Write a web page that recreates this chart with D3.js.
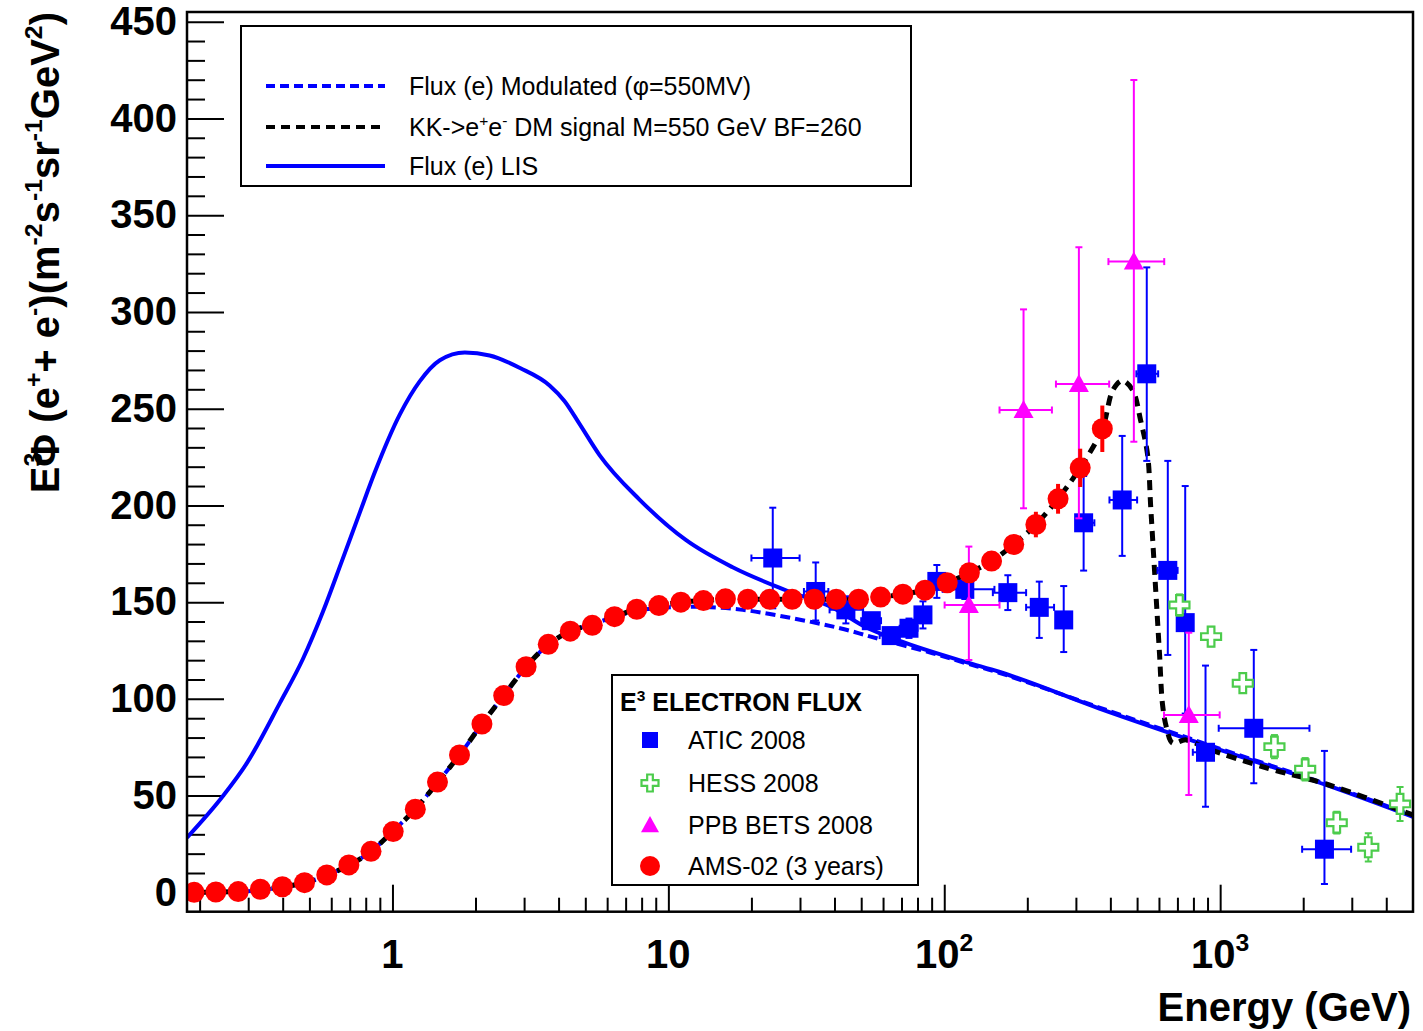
<!DOCTYPE html>
<html>
<head>
<meta charset="utf-8">
<script src="https://cdn.jsdelivr.net/npm/d3@7"></script>
<style>
  body { margin: 0; background: #fff; }
  text { font-family: "Liberation Sans", Arial, Helvetica, sans-serif; }
</style>
</head>
<body>
<div id="chart"></div>
<script>
// ---- data ----
// Flux (e) LIS, solid blue
var lisE = [0.18, 0.243, 0.297, 0.391, 0.4735, 0.5596, 0.6556, 0.7618, 0.8635, 1.0637, 1.257, 1.485, 1.829, 2.25, 2.90, 3.71, 4.2, 4.77, 5.63, 7.86, 11.6, 17.1, 26.8, 39.5, 52, 69, 120, 158, 365, 1000, 2421, 5000];
var lisV = [28.3, 49.8, 66.9, 97.9, 120.6, 145, 171.2, 196.4, 217.2, 247, 264.2, 275, 279, 277.5, 271, 262, 254, 242, 226, 203, 182, 168, 156, 147, 137, 130, 119, 114, 95, 73.6, 55.5, 39];

// Flux (e) Modulated (phi=550MV), dashed blue
var modE = [0.18, 0.23, 0.28, 0.33, 0.40, 0.48, 0.58, 0.70, 0.84, 1.0, 1.21, 1.46, 1.75, 2.11, 2.53, 3.05, 3.67, 4.41, 5.3, 6.38, 7.68, 9.24, 12.6, 18.6, 28.3, 41.9, 60, 90.7, 120, 158, 365, 1000, 2421, 5000];
var modV = [0, 0.2, 0.4, 1.2, 2.7, 4.8, 8.9, 14.2, 21.4, 31.4, 43, 57, 71, 87, 101.7, 116.6, 128, 135, 138.5, 142.5, 145.5, 147, 147.6, 146, 141.6, 136.5, 130.4, 123.6, 118.4, 113.5, 95.5, 74.2, 56, 39.6];

// KK->e+e- DM signal, dashed black
var dmE = [0.18, 0.23, 0.28, 0.33, 0.40, 0.48, 0.58, 0.70, 0.84, 1.0, 1.21, 1.46, 1.75, 2.11, 2.53, 3.05, 3.67, 4.41, 5.3, 6.38, 7.68, 9.24, 11.1, 13.4, 16.1, 23.3, 33.8, 48.9, 58.8, 70.8, 85.2, 102.5, 123.3, 148.4, 178.6, 214.8, 258.5, 311, 374, 408.6, 441.9, 481.6, 514.6, 545.8, 559.6, 573.8, 588.3, 603.1, 618.4, 639.4, 672, 753, 888, 1500, 2421, 5000];
var dmV = [0, 0.2, 0.4, 1.4, 2.8, 4.9, 9, 14.2, 21.4, 31.4, 43, 57, 71, 87, 101.7, 116.6, 128, 135, 138.5, 142.5, 146.3, 148.2, 150, 150.8, 151.5, 151.5, 151.5, 151.5, 152.6, 154.1, 156.2, 160, 165.2, 171.2, 179.8, 190.1, 203.4, 219.4, 239.6, 259.6, 264.4, 259.6, 244.1, 226.1, 200.3, 174.4, 148.6, 122.8, 96.9, 85, 77.2, 78.8, 74.5, 64, 56, 40];

// ATIC 2008
var aticE = [23.9, 34.2, 44, 54.4, 64.2, 74.5, 83.7, 94, 118.7, 170, 221, 271, 320, 441.5, 542, 646, 747, 885, 1324, 2388];
var aticV = [172.8, 155.5, 146, 140.4, 132.7, 136.5, 143.4, 160.7, 156.6, 154.9, 147.3, 140.8, 191, 202.8, 268, 166.4, 139.4, 72.4, 84.8, 22.3];
var aticErrLo = [26, 15, 7, 4, 4, 5, 7, 8.5, 5, 9, 15.8, 16.6, 24.7, 28.9, 45, 43.7, 47, 28.1, 28.4, 18];
var aticErrHi = [26, 15, 7, 4, 4, 5, 7, 8.5, 5, 9, 13.3, 17.5, 24.2, 33.1, 55, 56.6, 70.6, 44.8, 40.5, 50.8];
var aticElo = [20.0, 31, 38.4, 50, 58.3, 68.9, 78.5, 89, 98.7, 150, 198, 255, 300, 397, 497, 593, 713, 796, 988, 1982];
var aticEhi = [29.9, 38, 50.8, 59, 68.9, 80, 89, 101.5, 152, 198, 250, 287, 350, 500, 596, 701, 787, 935, 2107, 2983];

// HESS 2008
var hessE = [712, 927, 1208, 1573, 2033, 2646, 3443, 4488];
var hessV = [148.5, 132.2, 108.1, 75.3, 63.6, 36, 23.3, 45.7];
var hessErr = [5.5, 5, 5, 6, 5.8, 5.6, 7.3, 8.8];

// PPB BETS 2008
var ppbE = [122.8, 193.8, 307.6, 486.6, 769.6];
var ppbV = [148.5, 249.3, 262.7, 326, 91.7];
var ppbErrLo = [28.4, 50.8, 69.4, 93.1, 41.4];
var ppbErrHi = [30.2, 52, 70.7, 93.8, 42.5];
var ppbElo = [100.3, 158.6, 254, 393.6, 626];
var ppbEhi = [158.6, 245.6, 396, 627, 996];

// AMS-02 (3 years)
var amsE = [0.191, 0.229, 0.276, 0.332, 0.399, 0.480, 0.578, 0.695, 0.836, 1.006, 1.21, 1.456, 1.75, 2.11, 2.53, 3.05, 3.67, 4.41, 5.30, 6.38, 7.68, 9.24, 11.1, 13.4, 16.1, 19.4, 23.3, 28.1, 33.8, 40.6, 48.9, 58.8, 70.8, 85.2, 102.5, 123.3, 148.4, 178.6, 214.8, 258.5, 311, 374];
var amsV = [0, 0.2, 0.4, 1.6, 2.9, 5.0, 9.0, 14.2, 21.2, 31.4, 43, 57, 71, 87, 101.7, 116.6, 128.2, 135, 138, 142.5, 146.3, 148.2, 150, 150.8, 151.7, 151.5, 151.5, 151.5, 151.5, 151.5, 151.5, 152.6, 154.1, 156.2, 160, 165.2, 171.2, 179.8, 190.1, 203.4, 219.4, 239.6];
var amsErr = [0, 0, 0, 0, 0, 0, 0, 0, 0, 0, 0, 0, 0, 0, 0, 0, 0, 0, 0, 0, 0, 0, 0, 0, 0, 0, 0, 0, 0, 0, 0, 0, 0, 0, 0, 0, 3, 4.5, 6.6, 7.7, 9.9, 12];

// axis ticks
var xMajor = [1, 10, 100, 1000];
var xMajorBase = ["1", "10", "10", "10"];
var xMajorExp = ["", "", "2", "3"];
var xMinor = [0.2, 0.3, 0.4, 0.5, 0.6, 0.7, 0.8, 0.9, 2, 3, 4, 5, 6, 7, 8, 9, 20, 30, 40, 50, 60, 70, 80, 90, 200, 300, 400, 500, 600, 700, 800, 900, 2000, 3000, 4000];
var yMajor = [0, 50, 100, 150, 200, 250, 300, 350, 400, 450];
var yMinor = [10, 20, 30, 40, 60, 70, 80, 90, 110, 120, 130, 140, 160, 170, 180, 190, 210, 220, 230, 240, 260, 270, 280, 290, 310, 320, 330, 340, 360, 370, 380, 390, 410, 420, 430, 440];

var legendLines = ["Flux (e) Modulated (\u03c6=550MV)", "KK->e|+|e|-| DM signal M=550 GeV BF=260", "Flux (e) LIS"];
var legendPoints = ["ATIC 2008", "HESS 2008", "PPB BETS 2008", "AMS-02 (3 years)"];

var BLUE = "#0000ff", MAG = "#ff00ff", RED = "#ff0000", GREEN = "#4ccc4c";

function init() {
    var W = 1423, H = 1031;
    var left = 187, right = 1413, top = 12, bottom = 911.7;

    var svg = d3.select("#chart").append("svg")
        .attr("width", W).attr("height", H);

    var x = d3.scaleLog().domain([0.18, 5000]).range([left, right]);
    var y = d3.scaleLinear().domain([-10, 455]).range([bottom, top]);

    svg.append("clipPath").attr("id", "clip")
        .append("rect").attr("x", left).attr("y", top)
        .attr("width", right - left).attr("height", bottom - top);

    // rich text with superscripts: parts split by '|', odd pieces are raised
    function rich(sel, str, fs) {
        var pieces = str.split("|");
        var shift = 0;
        pieces.forEach(function (p, i) {
            if (p === "") return;
            var sup = i % 2 === 1;
            var t = sel.append("tspan").text(p);
            var target = sup ? -fs * 0.42 : 0;
            if (target !== shift) { t.attr("dy", target - shift); shift = target; }
            if (sup) t.attr("font-size", fs * 0.62);
        });
    }

    // axes
    var gx = svg.append("g").attr("transform", "translate(0," + bottom + ")");
    gx.append("g").call(d3.axisBottom(x).tickValues(xMajor).tickSize(-27).tickSizeOuter(0).tickFormat(""));
    gx.append("g").call(d3.axisBottom(x).tickValues(xMinor).tickSize(-14).tickSizeOuter(0).tickFormat(""));
    gx.selectAll(".domain").remove();
    gx.selectAll("line").attr("stroke", "#000").attr("stroke-width", 2);

    xMajor.forEach(function (v, i) {
        var t = svg.append("text")
            .attr("x", x(v)).attr("y", 968)
            .attr("text-anchor", "middle")
            .attr("font-size", 40).attr("font-weight", "bold");
        rich(t, xMajorBase[i] + (xMajorExp[i] ? "|" + xMajorExp[i] + "|" : ""), 40);
    });

    var gy = svg.append("g").attr("transform", "translate(" + left + ",0)");
    gy.append("g").call(d3.axisLeft(y).tickValues(yMinor).tickSize(-18).tickSizeOuter(0).tickFormat(""));
    var gyMaj = gy.append("g").call(d3.axisLeft(y).tickValues(yMajor).tickSize(-37).tickSizeOuter(0).tickPadding(10).tickFormat(d3.format("d")));
    gy.selectAll(".domain").remove();
    gy.selectAll("line").attr("stroke", "#000").attr("stroke-width", 2);
    gyMaj.selectAll("text")
        .attr("font-size", 40).attr("font-weight", "bold")
        .attr("font-family", "Liberation Sans, Arial, sans-serif")
        .attr("fill", "#000");

    // axis titles
    svg.append("text")
        .attr("x", 1411).attr("y", 1021)
        .attr("text-anchor", "end")
        .attr("font-size", 40).attr("font-weight", "bold")
        .text("Energy (GeV)");

    var yt = svg.append("text")
        .attr("transform", "translate(59,12) rotate(-90)")
        .attr("text-anchor", "end")
        .attr("font-size", 40).attr("font-weight", "bold");
    yt.append("tspan").text("E");
    yt.append("tspan").text("3").attr("font-size", 25).attr("dy", -17);
    yt.append("tspan").text("\u03a6").attr("dx", -14).attr("dy", 17);
    rich(yt, " (e|+|+ e|-|)(m|-2|s|-1|sr|-1|GeV|2|)", 40);

    // curves
    var plot = svg.append("g").attr("clip-path", "url(#clip)");
    var line = d3.line()
        .x(function (d) { return x(d[0]); })
        .y(function (d) { return y(d[1]); })
        .curve(d3.curveCatmullRom.alpha(0.5));
    var lineSmooth = d3.line()
        .x(function (d) { return x(d[0]); })
        .y(function (d) { return y(d[1]); })
        .curve(d3.curveMonotoneX);

    plot.append("path").datum(d3.zip(lisE, lisV))
        .attr("d", lineSmooth).attr("fill", "none")
        .attr("stroke", BLUE).attr("stroke-width", 4);
    plot.append("path").datum(d3.zip(modE, modV))
        .attr("d", line).attr("fill", "none")
        .attr("stroke", BLUE).attr("stroke-width", 4)
        .attr("stroke-dasharray", "10,5");
    plot.append("path").datum(d3.zip(dmE, dmV))
        .attr("d", line).attr("fill", "none")
        .attr("stroke", "#000").attr("stroke-width", 5)
        .attr("stroke-dasharray", "10,7");

    // error bars helper
    function errBars(g, xs, vs, lo, hi, exlo, exhi, color, w, cap) {
        xs.forEach(function (e, i) {
            var cx = x(e), cy = y(vs[i]);
            var yl = y(vs[i] - lo[i]), yh = y(vs[i] + hi[i]);
            g.append("line").attr("x1", cx).attr("x2", cx).attr("y1", yl).attr("y2", yh)
                .attr("stroke", color).attr("stroke-width", w);
            if (cap) {
                g.append("line").attr("x1", cx - cap).attr("x2", cx + cap).attr("y1", yl).attr("y2", yl)
                    .attr("stroke", color).attr("stroke-width", w);
                g.append("line").attr("x1", cx - cap).attr("x2", cx + cap).attr("y1", yh).attr("y2", yh)
                    .attr("stroke", color).attr("stroke-width", w);
            }
            if (exlo) {
                var xl = x(exlo[i]), xh = x(exhi[i]);
                g.append("line").attr("x1", xl).attr("x2", xh).attr("y1", cy).attr("y2", cy)
                    .attr("stroke", color).attr("stroke-width", w);
                g.append("line").attr("x1", xl).attr("x2", xl).attr("y1", cy - cap).attr("y2", cy + cap)
                    .attr("stroke", color).attr("stroke-width", w);
                g.append("line").attr("x1", xh).attr("x2", xh).attr("y1", cy - cap).attr("y2", cy + cap)
                    .attr("stroke", color).attr("stroke-width", w);
            }
        });
    }

    var crossPath = function (h) {
        var w = h / 3;
        return "M" + (-w) + "," + (-h) + "H" + w + "V" + (-w) + "H" + h + "V" + w + "H" + w + "V" + h +
            "H" + (-w) + "V" + w + "H" + (-h) + "V" + (-w) + "H" + (-w) + "Z";
    };
    var triPath = function (h) {
        return "M0," + (-h) + "L" + h + "," + (h * 0.8) + "L" + (-h) + "," + (h * 0.8) + "Z";
    };

    // ATIC
    var gA = plot.append("g");
    errBars(gA, aticE, aticV, aticErrLo, aticErrHi, aticElo, aticEhi, BLUE, 2, 3.5);
    gA.selectAll("rect.atic").data(d3.zip(aticE, aticV)).enter().append("rect")
        .attr("x", function (d) { return x(d[0]) - 9.5; })
        .attr("y", function (d) { return y(d[1]) - 9.5; })
        .attr("width", 19).attr("height", 19).attr("fill", BLUE);

    // HESS
    var gH = plot.append("g");
    errBars(gH, hessE, hessV, hessErr, hessErr, null, null, GREEN, 2, 3.5);
    gH.selectAll("path.hess").data(d3.zip(hessE, hessV)).enter().append("path")
        .attr("transform", function (d) { return "translate(" + x(d[0]) + "," + y(d[1]) + ")"; })
        .attr("d", crossPath(10)).attr("fill", "#fff")
        .attr("stroke", GREEN).attr("stroke-width", 2.2);

    // PPB BETS
    var gP = plot.append("g");
    errBars(gP, ppbE, ppbV, ppbErrLo, ppbErrHi, ppbElo, ppbEhi, MAG, 2, 3.5);
    gP.selectAll("path.ppb").data(d3.zip(ppbE, ppbV)).enter().append("path")
        .attr("transform", function (d) { return "translate(" + x(d[0]) + "," + y(d[1]) + ")"; })
        .attr("d", triPath(10)).attr("fill", MAG);

    // AMS-02
    var gM = plot.append("g");
    amsE.forEach(function (e, i) {
        if (amsErr[i] > 0) {
            gM.append("line").attr("x1", x(e)).attr("x2", x(e))
                .attr("y1", y(amsV[i] - amsErr[i])).attr("y2", y(amsV[i] + amsErr[i]))
                .attr("stroke", RED).attr("stroke-width", 4);
        }
    });
    gM.selectAll("circle").data(d3.zip(amsE, amsV)).enter().append("circle")
        .attr("cx", function (d) { return x(d[0]); })
        .attr("cy", function (d) { return y(d[1]); })
        .attr("r", 10.5).attr("fill", RED);

    // frame
    svg.append("rect").attr("x", left).attr("y", top)
        .attr("width", right - left).attr("height", bottom - top)
        .attr("fill", "none").attr("stroke", "#000").attr("stroke-width", 2.5);

    // legend for curves
    var L1 = svg.append("g");
    L1.append("rect").attr("x", 241).attr("y", 26).attr("width", 670).attr("height", 160)
        .attr("fill", "#fff").attr("stroke", "#000").attr("stroke-width", 2);
    var l1y = [86, 127, 166];
    var l1style = [
        { c: BLUE, w: 4, d: "9,5" },
        { c: "#000", w: 4, d: "9,6" },
        { c: BLUE, w: 4, d: null }
    ];
    legendLines.forEach(function (s, i) {
        var ln = L1.append("line").attr("x1", 266).attr("x2", 385)
            .attr("y1", l1y[i]).attr("y2", l1y[i])
            .attr("stroke", l1style[i].c).attr("stroke-width", l1style[i].w);
        if (l1style[i].d) ln.attr("stroke-dasharray", l1style[i].d);
        var t = L1.append("text").attr("x", 409).attr("y", l1y[i] + 9).attr("font-size", 25);
        rich(t, s, 25);
    });

    // legend for data
    var L2 = svg.append("g");
    L2.append("rect").attr("x", 612).attr("y", 675).attr("width", 306).attr("height", 210)
        .attr("fill", "#fff").attr("stroke", "#000").attr("stroke-width", 2);
    var l2t = L2.append("text").attr("x", 620).attr("y", 711)
        .attr("font-size", 25).attr("font-weight", "bold");
    rich(l2t, "E|3| ELECTRON FLUX", 25);
    var l2y = [740, 783, 825, 866];
    legendPoints.forEach(function (s, i) {
        L2.append("text").attr("x", 688).attr("y", l2y[i] + 9).attr("font-size", 25).text(s);
    });
    L2.append("rect").attr("x", 650 - 8).attr("y", l2y[0] - 8).attr("width", 16).attr("height", 16).attr("fill", BLUE);
    L2.append("path").attr("transform", "translate(650," + l2y[1] + ")").attr("d", crossPath(8.5))
        .attr("fill", "#fff").attr("stroke", GREEN).attr("stroke-width", 2.2);
    L2.append("path").attr("transform", "translate(650," + l2y[2] + ")").attr("d", triPath(9)).attr("fill", MAG);
    L2.append("circle").attr("cx", 650).attr("cy", l2y[3]).attr("r", 10).attr("fill", RED);
}

window.onload = init;
</script>
</body>
</html>
